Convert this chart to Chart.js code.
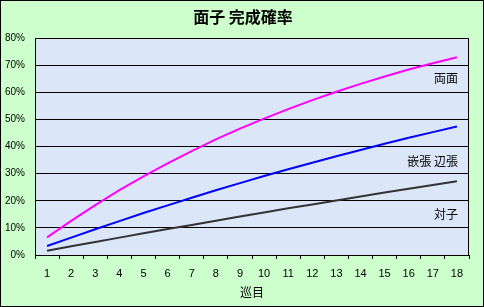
<!DOCTYPE html>
<html>
<head>
<meta charset="utf-8">
<script src="https://cdn.jsdelivr.net/npm/chart.js@4/dist/chart.umd.min.js"></script>
<style>
html,body{margin:0;padding:0;background:#ccffcc;}
canvas{display:block;}
</style>
</head>
<body>
<canvas id="c" width="484" height="307" style="width:484px;height:307px"></canvas>
<script>
const chartTitle = '面子 完成確率';
const xAxisTitle = '巡目';
const categories = ['1','2','3','4','5','6','7','8','9','10','11','12','13','14','15','16','17','18'];
const ryanmen = [6.5,12.6,18.4,23.9,29.0,33.8,38.3,42.6,46.6,50.3,53.8,57.1,60.2,63.1,65.8,68.4,70.7,72.9];
const kanchanPenchan = [3.3,6.4,9.5,12.5,15.5,18.3,21.1,23.9,26.5,29.1,31.6,34.0,36.4,38.7,41.0,43.2,45.3,47.4];
const toitsu = [1.6,3.2,4.8,6.4,8.0,9.6,11.1,12.6,14.2,15.7,17.2,18.6,20.1,21.6,23.0,24.4,25.8,27.2];
const seriesNames = ['両面','嵌張 辺張','対子'];
const seriesLabelLevels = [65.1,34.6,15.1];
const yTicks = [0,10,20,30,40,50,60,70,80];

const NUM_FONT = '"Liberation Sans", Arial, "Noto Sans CJK JP", sans-serif';
const JP_FONT = '"Noto Sans CJK JP", "Liberation Sans", sans-serif';

const decor = {
  id: 'decor',
  beforeDraw(chart) {
    const ctx = chart.ctx, a = chart.chartArea;
    ctx.save();
    ctx.fillStyle = '#ccffcc';
    ctx.fillRect(0, 0, chart.width, chart.height);
    ctx.strokeStyle = '#000';
    ctx.lineWidth = 1;
    ctx.strokeRect(0.5, 0.5, chart.width - 1, chart.height - 1);
    ctx.fillStyle = '#dbe7f8';
    ctx.fillRect(a.left, a.top, a.right - a.left, a.bottom - a.top);
    ctx.fillStyle = '#000';
    ctx.font = 'bold 16px ' + JP_FONT;
    ctx.textAlign = 'center';
    ctx.textBaseline = 'middle';
    ctx.fillText(chartTitle, 243, 17);
    ctx.restore();
  },
  afterDatasetsDraw(chart) {
    const ctx = chart.ctx, a = chart.chartArea;
    const xs = chart.scales.x, ys = chart.scales.y;
    ctx.save();
    ctx.strokeStyle = '#000';
    ctx.lineWidth = 1;
    ctx.beginPath();
    ctx.moveTo(Math.round(a.right) - 0.5, a.top);
    ctx.lineTo(Math.round(a.right) - 0.5, a.bottom);
    ctx.stroke();
    ctx.fillStyle = '#000';
    ctx.font = '12px ' + JP_FONT;
    ctx.textAlign = 'right';
    ctx.textBaseline = 'middle';
    const xr = xs.getPixelForValue(categories.length - 1) + 1;
    seriesNames.forEach((n, i) => {
      ctx.fillText(n, xr, ys.getPixelForValue(seriesLabelLevels[i]));
    });
    ctx.restore();
  }
};

new Chart(document.getElementById('c'), {
  type: 'line',
  data: {
    labels: categories,
    datasets: [
      {label: seriesNames[0], data: ryanmen, borderColor: '#ff00ff', backgroundColor: '#ff00ff', borderWidth: 2, pointRadius: 0, tension: 0, fill: false},
      {label: seriesNames[1], data: kanchanPenchan, borderColor: '#0000ff', backgroundColor: '#0000ff', borderWidth: 2, pointRadius: 0, tension: 0, fill: false},
      {label: seriesNames[2], data: toitsu, borderColor: '#333333', backgroundColor: '#333333', borderWidth: 2, pointRadius: 0, tension: 0, fill: false}
    ]
  },
  options: {
    responsive: false,
    animation: false,
    devicePixelRatio: 1,
    layout: {padding: {top: 38, right: 15, bottom: 0, left: 0}},
    plugins: {legend: {display: false}, tooltip: {enabled: false}, title: {display: false}},
    scales: {
      x: {
        type: 'category',
        offset: true,
        grid: {offset: true, drawOnChartArea: false, drawTicks: true, tickLength: 4, color: '#000', tickColor: '#000'},
        border: {display: true, color: '#000', width: 1},
        ticks: {color: '#000', font: {family: NUM_FONT, size: 11}, padding: 8, maxRotation: 0, autoSkip: false},
        title: {display: true, text: xAxisTitle, color: '#000', font: {family: JP_FONT, size: 12}, padding: {top: 0, bottom: 7}},
        afterFit(s) { s.height = 52; }
      },
      y: {
        min: 0, max: 80,
        afterBuildTicks(s) { s.ticks = yTicks.map(v => ({value: v})); },
        grid: {color: '#000', lineWidth: 1, drawTicks: false},
        border: {display: true, color: '#000', width: 1},
        ticks: {color: '#000', font: {family: NUM_FONT, size: 10}, padding: 10, callback: v => v + '%'},
        afterFit(s) { s.width = 35; }
      }
    }
  },
  plugins: [decor]
});
</script>
</body>
</html>
